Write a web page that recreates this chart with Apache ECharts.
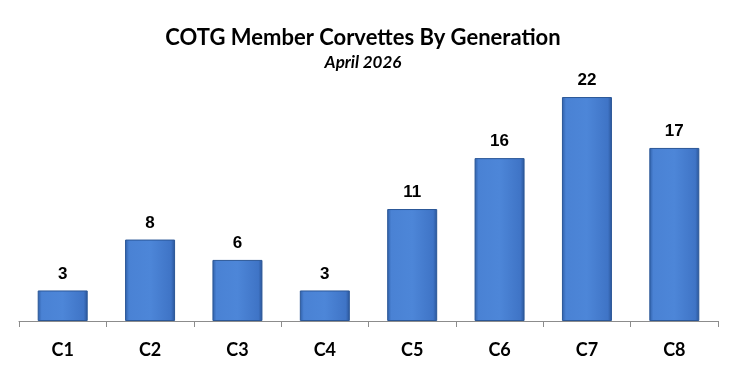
<!DOCTYPE html>
<html>
<head>
<meta charset="utf-8">
<script src="https://cdn.jsdelivr.net/npm/echarts@6/dist/echarts.min.js"></script>
<style>
  html, body { margin: 0; padding: 0; background: #fff; }
  #chart { width: 734px; height: 377px; }
</style>
</head>
<body>
<div id="chart"></div>
<script>
const generations = ['C1', 'C2', 'C3', 'C4', 'C5', 'C6', 'C7', 'C8'];
const memberCounts = [3, 8, 6, 3, 11, 16, 22, 17];

const chart = echarts.init(document.getElementById('chart'));

const barFill = new echarts.graphic.LinearGradient(0, 0, 1, 0, [
    { offset: 0, color: '#2f5fa8' },
    { offset: 0.08, color: '#4a82d4' },
    { offset: 0.5, color: '#4d86d8' },
    { offset: 0.92, color: '#3f74c6' },
    { offset: 1, color: '#2a5598' }
]);

const option = {
    animation: false,
    title: {
        text: 'COTG Member Corvettes By Generation',
        subtext: 'April 2026',
        left: 358,
        textAlign: 'center',
        top: 22,
        itemGap: 5,
        textStyle: {
            fontFamily: 'Lato',
            fontWeight: 'bold',
            fontSize: 22,
            color: '#000'
        },
        subtextStyle: {
            fontFamily: 'Lato',
            fontWeight: 'bold',
            fontStyle: 'italic',
            fontSize: 17,
            color: '#000'
        }
    },
    grid: {
        left: 19,
        right: 16,
        top: 66.5,
        bottom: 56
    },
    xAxis: {
        type: 'category',
        data: generations,
        axisLine: { lineStyle: { color: '#8c8c8c', width: 1 } },
        axisTick: { show: true, length: 6, lineStyle: { color: '#8c8c8c' } },
        axisLabel: {
            margin: 20,
            fontFamily: 'Lato',
            fontWeight: 'bold',
            fontSize: 18,
            color: '#000'
        }
    },
    yAxis: {
        type: 'value',
        min: 0,
        max: 25,
        show: false,
        splitLine: { show: false }
    },
    series: [
        {
            type: 'bar',
            data: memberCounts,
            barWidth: 50,
            itemStyle: {
                color: barFill,
                borderColor: '#2b5797',
                borderWidth: 1
            },
            label: {
                show: true,
                position: 'top',
                distance: 8,
                fontFamily: 'Liberation Sans',
                fontWeight: 'bold',
                fontSize: 17,
                color: '#000'
            }
        }
    ]
};

chart.setOption(option);
</script>
</body>
</html>
